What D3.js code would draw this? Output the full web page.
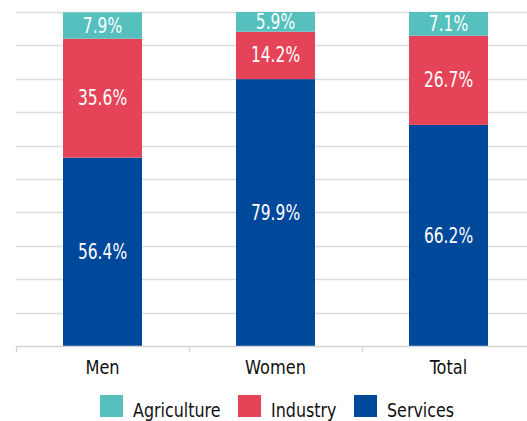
<!DOCTYPE html>
<html><head><meta charset="utf-8">
<script src="https://cdn.jsdelivr.net/npm/d3@7"></script>
<style>
body{margin:0;background:#fff;}
svg text{font-family:"DejaVu Sans Condensed","DejaVu Sans",sans-serif;}
</style></head>
<body><svg id="c" width="527" height="421"></svg>
<script>
const categories = ["Men", "Women", "Total"];
const seriesNames = ["Services", "Industry", "Agriculture"];
const services = [56.4, 79.9, 66.2];
const industry = [35.6, 14.2, 26.7];
const agriculture = [7.9, 5.9, 7.1];
const yTicks = [0,10,20,30,40,50,60,70,80,90,100];
const colors = {Agriculture:"#55c0be", Industry:"#e54458", Services:"#00489a"};

const rows = categories.map((c,i)=>({cat:c, Services:services[i], Industry:industry[i], Agriculture:agriculture[i]}));
const stack = d3.stack().keys(seriesNames)(rows);

const svg = d3.select("#c");
const x = d3.scaleBand().domain(categories).range([16, 535]).paddingInner(0).paddingOuter(0);
const y = d3.scaleLinear().domain([0,100]).range([346, 12]);
const barW = 79;

// gridlines
svg.append("g").selectAll("line").data(yTicks.filter(t=>t>0)).join("line")
  .attr("x1",16).attr("x2",527).attr("y1",d=>Math.round(y(d))+0.5).attr("y2",d=>Math.round(y(d))+0.5)
  .attr("stroke","#dcdcdc").attr("stroke-width",1.3);

// bars
const g = svg.append("g");
stack.forEach(s=>{
  g.append("g").selectAll("rect").data(s).join("rect")
    .attr("x",d=>x(d.data.cat)+x.bandwidth()/2-barW/2)
    .attr("width",barW)
    .attr("y",d=>y(d[1]))
    .attr("height",d=>y(d[0])-y(d[1]))
    .attr("fill",colors[s.key]);
  g.append("g").selectAll("text").data(s).join("text")
    .attr("transform",d=>`translate(${x(d.data.cat)+x.bandwidth()/2},${(y(d[0])+y(d[1]))/2 - 0.5}) scale(0.82,1)`)
    .attr("dy","0.36em")
    .attr("text-anchor","middle")
    .attr("fill","#fff")
    .attr("font-size",21)
    .text(d=>(d[1]-d[0]).toFixed(1)+"%");
});

// x axis
const ax = svg.append("g").attr("transform","translate(0,346)")
  .call(d3.axisBottom(x).tickSize(0).tickPadding(14));
ax.select(".domain").attr("stroke","#d4d4d4").attr("stroke-width",1.3).attr("d","M16,0.5H527");
ax.selectAll(".tick text").attr("font-size",20).attr("fill","#111").attr("font-family",null)
  .attr("transform","scale(0.9,1)");
// category boundary ticks
svg.append("g").selectAll("line").data(categories).join("line")
  .attr("x1",d=>Math.round(x(d))+0.5).attr("x2",d=>Math.round(x(d))+0.5)
  .attr("y1",346).attr("y2",352).attr("stroke","#d4d4d4").attr("stroke-width",1.3);

// legend
const legend = [
  {name:"Agriculture", x:100},
  {name:"Industry", x:238},
  {name:"Services", x:354}
];
const lg = svg.append("g").selectAll("g").data(legend).join("g")
  .attr("transform",d=>`translate(${d.x},395)`);
lg.append("rect").attr("width",23).attr("height",22).attr("fill",d=>colors[d.name]);
lg.append("text").attr("transform","translate(33,21.5) scale(0.885,1)").attr("font-size",20).attr("fill","#111").text(d=>d.name);
</script></body></html>
